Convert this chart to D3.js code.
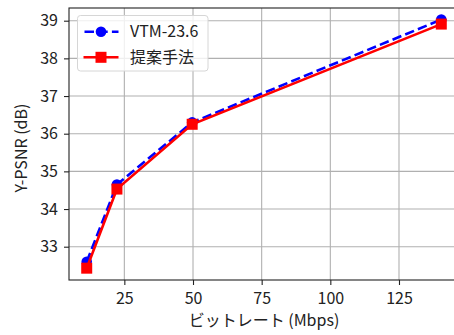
<!DOCTYPE html>
<html><head><meta charset="utf-8">
<script src="https://cdn.jsdelivr.net/npm/d3@7"></script>
<style>
body{margin:0;background:#fff;}
svg{display:block;font-family:"Noto Sans CJK JP","Noto Sans",sans-serif;}
</style></head>
<body>
<svg id="c" width="454" height="335"></svg>
<script>
const bitrate = [11.3, 22.3, 49.7, 140.4];
const vtm = [32.6, 34.65, 36.3, 39.03];
const proposed = [32.43, 34.53, 36.25, 38.91];
const seriesNames = ["VTM-23.6", "提案手法"];
const xTicks = [25, 50, 75, 100, 125];
const yTicks = [33, 34, 35, 36, 37, 38, 39];
const xLabel = "ビットレート (Mbps)";
const yLabel = "Y-PSNR (dB)";

const svg = d3.select("#c");
const L = 69, R = 459, T = 8, B = 280;
const FS = 16;
const x = d3.scaleLinear().domain([4.85, 146.85]).range([L, R]);
const y = d3.scaleLinear().domain([32.116, 39.337]).range([B, T]);

// grid
const g = svg.append("g");
g.selectAll(".gx").data(xTicks).join("line")
  .attr("x1", d => x(d)).attr("x2", d => x(d)).attr("y1", T).attr("y2", B)
  .attr("stroke", "#b0b0b0").attr("stroke-width", 1.1);
g.selectAll(".gy").data(yTicks).join("line")
  .attr("y1", d => y(d)).attr("y2", d => y(d)).attr("x1", L).attr("x2", R)
  .attr("stroke", "#b0b0b0").attr("stroke-width", 1.1);

// axes
const xAxis = svg.append("g").attr("transform", `translate(0,${B})`)
  .call(d3.axisBottom(x).tickValues(xTicks).tickSize(5).tickPadding(8).tickFormat(d3.format("d")));
const yAxis = svg.append("g").attr("transform", `translate(${L},0)`)
  .call(d3.axisLeft(y).tickValues(yTicks).tickSize(5).tickPadding(6).tickFormat(d3.format("d")));
[xAxis, yAxis].forEach(a => {
  a.select(".domain").remove();
  a.selectAll("line").attr("stroke", "#222").attr("stroke-width", 1.1);
  a.selectAll("text").attr("font-size", FS).attr("fill", "#222")
    .attr("font-family", "'Noto Sans CJK JP','Noto Sans',sans-serif");
});
// spines
svg.append("rect").attr("x", L).attr("y", T).attr("width", R - L).attr("height", B - T)
  .attr("fill", "none").attr("stroke", "#222").attr("stroke-width", 1.1);

const line = d3.line().x((d, i) => x(bitrate[i])).y(d => y(d));
// VTM
svg.append("path").datum(vtm).attr("d", line).attr("fill", "none")
  .attr("stroke", "#0000ff").attr("stroke-width", 2.6).attr("stroke-dasharray", "9.5,4.2");
svg.selectAll(".cv").data(vtm).join("circle")
  .attr("cx", (d, i) => x(bitrate[i])).attr("cy", d => y(d)).attr("r", 5.3).attr("fill", "#0000ff");
// proposed
svg.append("path").datum(proposed).attr("d", line).attr("fill", "none")
  .attr("stroke", "#ff0000").attr("stroke-width", 2.6);
svg.selectAll(".sp").data(proposed).join("rect")
  .attr("x", (d, i) => x(bitrate[i]) - 5.5).attr("y", d => y(d) - 5.5)
  .attr("width", 11).attr("height", 11).attr("fill", "#ff0000");

// legend
const lg = svg.append("g");
lg.append("rect").attr("x", 77.5).attr("y", 15.5).attr("width", 130.5).attr("height", 55.5)
  .attr("rx", 3).attr("fill", "#fff").attr("fill-opacity", 0.8).attr("stroke", "#d6d6d6").attr("stroke-width", 1);
const rows = [31.7, 57.3];
lg.append("line").attr("x1", 83.5).attr("x2", 118.5).attr("y1", rows[0]).attr("y2", rows[0])
  .attr("stroke", "#0000ff").attr("stroke-width", 2.6).attr("stroke-dasharray", "9.5,4.2").attr("stroke-dashoffset", -1);
lg.append("circle").attr("cx", 101).attr("cy", rows[0]).attr("r", 5.3).attr("fill", "#0000ff");
lg.append("line").attr("x1", 83.5).attr("x2", 118.5).attr("y1", rows[1]).attr("y2", rows[1])
  .attr("stroke", "#ff0000").attr("stroke-width", 2.6);
lg.append("rect").attr("x", 95.5).attr("y", rows[1] - 5.5).attr("width", 11).attr("height", 11).attr("fill", "#ff0000");
seriesNames.forEach((n, i) => {
  lg.append("text").attr("x", 130).attr("y", rows[i]).attr("dy", "0.35em")
    .attr("font-size", FS).attr("fill", "#222").text(n);
});

// axis labels
svg.append("text").attr("x", (L + R) / 2).attr("y", 326).attr("text-anchor", "middle")
  .attr("font-size", FS).attr("fill", "#222").text(xLabel);
svg.append("text").attr("transform", `translate(27,148) rotate(-90)`)
  .attr("text-anchor", "middle").attr("font-size", FS).attr("fill", "#222").text(yLabel);
</script>
</body></html>
